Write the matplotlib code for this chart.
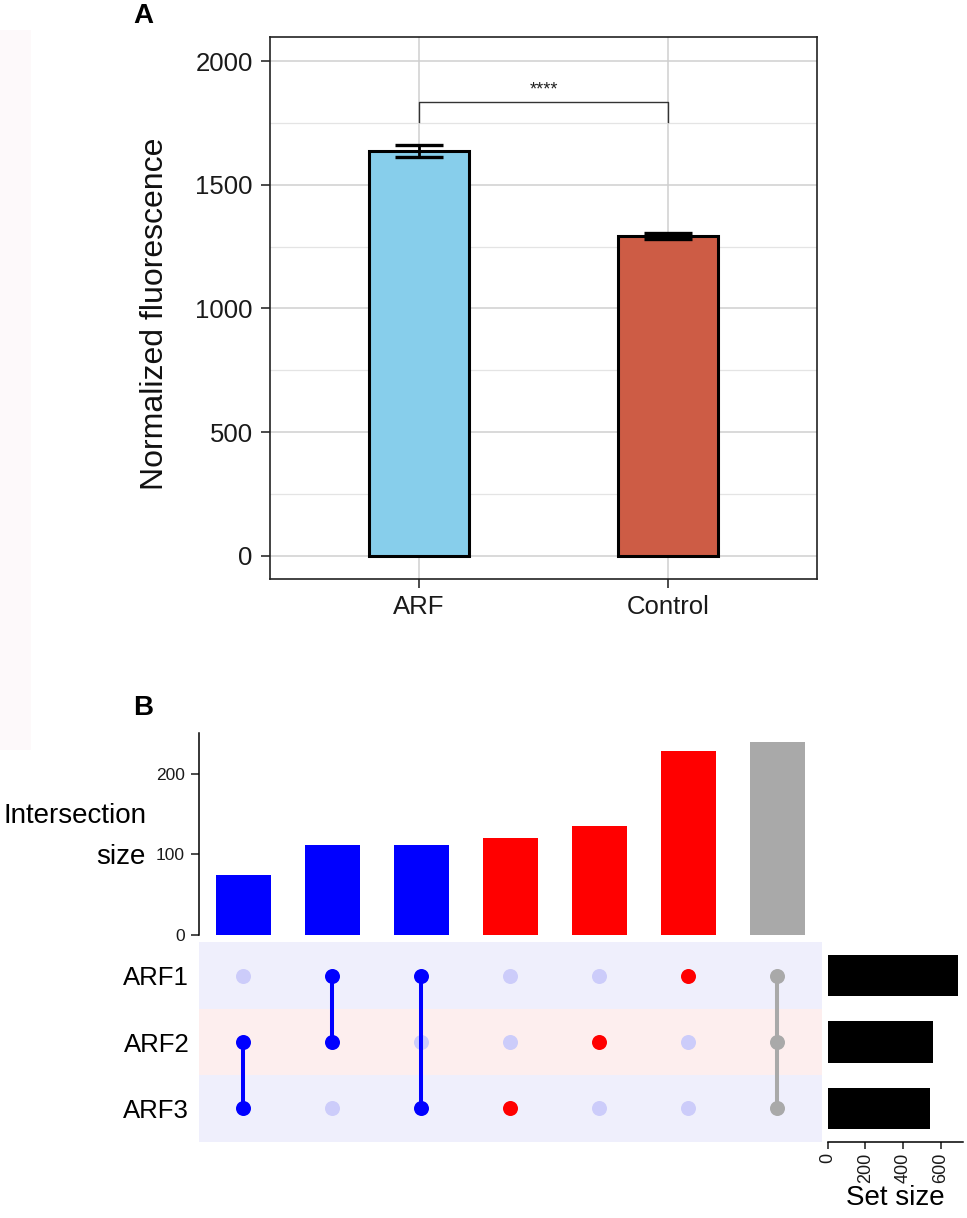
import matplotlib
matplotlib.use("Agg")
import matplotlib.pyplot as plt
from matplotlib.patches import Rectangle

plt.rcParams['font.family'] = ['Liberation Sans', 'DejaVu Sans']

# ---------------- data ----------------
groups = ["ARF", "Control"]
means = [1636, 1294]
sems = [23, 13]
group_colors = ["#87CEEB", "#CD5C45"]
signif_label = "****"

set_names = ["ARF1", "ARF2", "ARF3"]
set_sizes = [690, 559, 545]
intersection_sizes = [74, 112, 112, 120, 135, 228, 239]
intersection_members = [["ARF2", "ARF3"], ["ARF1", "ARF2"], ["ARF1", "ARF3"],
                        ["ARF3"], ["ARF2"], ["ARF1"], ["ARF1", "ARF2", "ARF3"]]
intersection_colors = ["#0000FF", "#0000FF", "#0000FF", "#FF0000", "#FF0000", "#FF0000", "#A9A9A9"]

W, H = 967, 1218
fig = plt.figure(figsize=(W / 100, H / 100), dpi=100)

def box(l, r, t, b):
    return [l / W, 1 - b / H, (r - l) / W, (b - t) / H]

# faint strip at left edge
fig.patches.append(Rectangle((0, 1 - 750 / H), 31 / W, 720 / H, transform=fig.transFigure,
                             facecolor="#FDF9FA", edgecolor="none", zorder=0))

# ---------------- Panel A ----------------
axA = fig.add_axes(box(270, 817, 37, 579))
xpos = list(range(len(groups)))
axA.set_xlim(-0.6, 1.6)
axA.set_ylim(-93, 2097)
axA.set_yticks([0, 500, 1000, 1500, 2000])
axA.set_yticks([250, 750, 1250, 1750], minor=True)
axA.set_xticks(xpos)
axA.set_xticklabels(groups)
axA.grid(which="major", color="#CFCFCF", lw=1.1, zorder=0)
axA.grid(which="minor", axis="y", color="#E4E4E4", lw=0.9, zorder=0)
axA.set_axisbelow(True)
axA.bar(xpos, means, width=0.4, color=group_colors, edgecolor="black", linewidth=2.2, zorder=2)
axA.errorbar(xpos, means, yerr=sems, fmt="none", ecolor="black", elinewidth=2.0,
             capsize=17, capthick=2.4, zorder=3)
yb0, yb1 = 1755, 1833
axA.plot([0, 0, 1, 1], [yb0, yb1, yb1, yb0], color="#333333", lw=1.0, zorder=3)
axA.text(0.5, yb1 + 14, signif_label, ha="center", va="bottom", fontsize=13, color="#222222")
for s in axA.spines.values():
    s.set_linewidth(1.2)
    s.set_color("#222222")
axA.tick_params(axis="both", which="major", length=6.5, width=1.1, labelsize=18.5,
                pad=5, colors="#1A1A1A")
axA.tick_params(axis="y", which="major", pad=6)
axA.tick_params(which="minor", length=0)
fig.text(155 / W, 1 - 314 / H, "Normalized fluorescence", rotation=90, ha="center", va="center",
         fontsize=23, color="#111111")
fig.text(143 / W, 1 - 16 / H, "A", ha="center", va="center", fontsize=20, fontweight="bold")
fig.text(143 / W, 1 - 708 / H, "B", ha="center", va="center", fontsize=20, fontweight="bold")

# ---------------- Panel B: intersection bars ----------------
ncol = len(intersection_sizes)
cols = list(range(ncol))
axT = fig.add_axes(box(199, 821.7, 732.7, 935))
axT.bar(cols, intersection_sizes, width=0.615, color=intersection_colors)
axT.set_xlim(-0.5, ncol - 0.5)
axT.set_ylim(0, 251)
axT.set_yticks([0, 100, 200])
axT.set_xticks([])
for k in ["top", "right", "bottom"]:
    axT.spines[k].set_visible(False)
axT.spines["left"].set_linewidth(1.1)
axT.tick_params(axis="y", length=6, width=1.1, labelsize=12.5, pad=4, colors="#1A1A1A")
fig.text(146 / W, 1 - 816 / H, "Intersection", ha="right", va="center", fontsize=20)
fig.text(146 / W, 1 - 857 / H, "size", ha="right", va="center", fontsize=20)

# ---------------- Panel B: matrix ----------------
axM = fig.add_axes(box(199, 821.7, 942.3, 1141.7))
rows = {name: len(set_names) - 1 - i for i, name in enumerate(set_names)}
band_colors = ["#EFEFFC", "#FDEEEE", "#EFEFFC"]
for i, name in enumerate(set_names):
    y = rows[name]
    axM.axhspan(y - 0.5, y + 0.5, color=band_colors[i], lw=0, zorder=0)
for c, members, col in zip(cols, intersection_members, intersection_colors):
    for name in set_names:
        if name not in members:
            axM.plot(c, rows[name], "o", color="#CCCCFA", markersize=10.8, mec="none", zorder=2)
    ys = [rows[m] for m in members]
    if len(ys) > 1:
        axM.plot([c, c], [min(ys), max(ys)], color=col, lw=2.9, zorder=3)
    axM.plot([c] * len(ys), ys, "o", color=col, markersize=10.8, mec="none", zorder=4)
axM.set_xlim(-0.5, ncol - 0.5)
axM.set_ylim(-0.5, len(set_names) - 0.5)
axM.set_xticks([])
axM.set_yticks([rows[n] for n in set_names])
axM.set_yticklabels(set_names)
axM.tick_params(axis="y", length=0, labelsize=18.5, pad=7)
for s in axM.spines.values():
    s.set_visible(False)

# ---------------- Panel B: set sizes ----------------
axS = fig.add_axes(box(827.7, 963.3, 942.3, 1141.7))
axS.barh([rows[n] for n in set_names], set_sizes, height=0.62, color="black")
axS.set_ylim(-0.5, len(set_names) - 0.5)
axS.set_xlim(0, 720)
axS.set_xticks([0, 200, 400, 600])
axS.set_yticks([])
for k in ["top", "right", "left"]:
    axS.spines[k].set_visible(False)
axS.spines["bottom"].set_linewidth(1.1)
axS.tick_params(axis="x", length=5, width=1.1, labelsize=13, pad=3, labelrotation=90,
                colors="#1A1A1A")
axS.set_xlabel("Set size", fontsize=20, labelpad=1)

fig.savefig("out.png", dpi=100, facecolor="white")
